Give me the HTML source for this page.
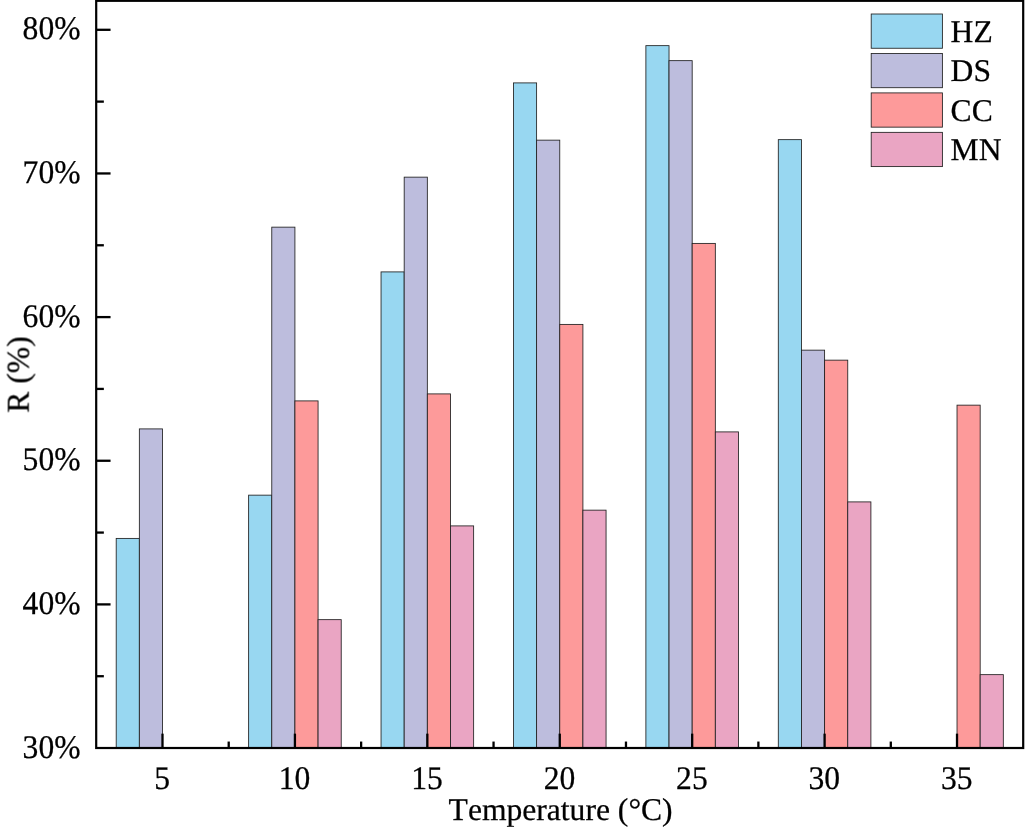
<!DOCTYPE html>
<html><head><meta charset="utf-8"><title>chart</title>
<style>
html,body{margin:0;padding:0;background:#fff;}
body{width:1026px;height:829px;overflow:hidden;}
svg{display:block;filter:blur(0.35px);}
text{font-family:"Liberation Serif",serif;font-size:31.6px;fill:#000;stroke:#000;stroke-width:0.25px;font-kerning:none;font-variant-ligatures:none;text-rendering:geometricPrecision;}
#txt{opacity:0.999;}
</style></head><body>
<svg width="1026" height="829" viewBox="0 0 1026 829">
<rect x="0" y="0" width="1026" height="829" fill="#fff"/>
<g stroke="#202020" stroke-width="0.85">
<rect x="116.20" y="538.40" width="23.15" height="209.65" fill="#98d7f1"/>
<rect x="139.35" y="428.90" width="23.15" height="319.15" fill="#bdbddd"/>
<rect x="248.62" y="495.15" width="23.15" height="252.90" fill="#98d7f1"/>
<rect x="271.77" y="227.15" width="23.15" height="520.90" fill="#bdbddd"/>
<rect x="294.92" y="400.90" width="23.15" height="347.15" fill="#fd9a9a"/>
<rect x="318.07" y="619.65" width="23.15" height="128.40" fill="#eaa5c3"/>
<rect x="381.04" y="271.90" width="23.15" height="476.15" fill="#98d7f1"/>
<rect x="404.19" y="177.15" width="23.15" height="570.90" fill="#bdbddd"/>
<rect x="427.34" y="393.90" width="23.15" height="354.15" fill="#fd9a9a"/>
<rect x="450.49" y="525.90" width="23.15" height="222.15" fill="#eaa5c3"/>
<rect x="513.46" y="82.90" width="23.15" height="665.15" fill="#98d7f1"/>
<rect x="536.61" y="140.15" width="23.15" height="607.90" fill="#bdbddd"/>
<rect x="559.76" y="324.40" width="23.15" height="423.65" fill="#fd9a9a"/>
<rect x="582.91" y="510.15" width="23.15" height="237.90" fill="#eaa5c3"/>
<rect x="645.88" y="45.65" width="23.15" height="702.40" fill="#98d7f1"/>
<rect x="669.03" y="60.65" width="23.15" height="687.40" fill="#bdbddd"/>
<rect x="692.18" y="243.40" width="23.15" height="504.65" fill="#fd9a9a"/>
<rect x="715.33" y="431.90" width="23.15" height="316.15" fill="#eaa5c3"/>
<rect x="778.30" y="139.65" width="23.15" height="608.40" fill="#98d7f1"/>
<rect x="801.45" y="350.15" width="23.15" height="397.90" fill="#bdbddd"/>
<rect x="824.60" y="360.15" width="23.15" height="387.90" fill="#fd9a9a"/>
<rect x="847.75" y="501.90" width="23.15" height="246.15" fill="#eaa5c3"/>
<rect x="957.02" y="405.15" width="23.15" height="342.90" fill="#fd9a9a"/>
<rect x="980.17" y="674.65" width="23.15" height="73.40" fill="#eaa5c3"/>
</g>
<g stroke="#000" stroke-width="2.3" fill="none">
<line x1="96.25" y1="676.22" x2="103.85" y2="676.22"/>
<line x1="96.25" y1="604.40" x2="110.55" y2="604.40"/>
<line x1="96.25" y1="532.57" x2="103.85" y2="532.57"/>
<line x1="96.25" y1="460.75" x2="110.55" y2="460.75"/>
<line x1="96.25" y1="388.92" x2="103.85" y2="388.92"/>
<line x1="96.25" y1="317.10" x2="110.55" y2="317.10"/>
<line x1="96.25" y1="245.27" x2="103.85" y2="245.27"/>
<line x1="96.25" y1="173.45" x2="110.55" y2="173.45"/>
<line x1="96.25" y1="101.62" x2="103.85" y2="101.62"/>
<line x1="96.25" y1="29.80" x2="110.55" y2="29.80"/>
<line x1="162.50" y1="748.05" x2="162.50" y2="733.65"/>
<line x1="228.71" y1="748.05" x2="228.71" y2="741.55"/>
<line x1="294.92" y1="748.05" x2="294.92" y2="733.65"/>
<line x1="361.13" y1="748.05" x2="361.13" y2="741.55"/>
<line x1="427.34" y1="748.05" x2="427.34" y2="733.65"/>
<line x1="493.55" y1="748.05" x2="493.55" y2="741.55"/>
<line x1="559.76" y1="748.05" x2="559.76" y2="733.65"/>
<line x1="625.97" y1="748.05" x2="625.97" y2="741.55"/>
<line x1="692.18" y1="748.05" x2="692.18" y2="733.65"/>
<line x1="758.39" y1="748.05" x2="758.39" y2="741.55"/>
<line x1="824.60" y1="748.05" x2="824.60" y2="733.65"/>
<line x1="890.81" y1="748.05" x2="890.81" y2="741.55"/>
<line x1="957.02" y1="748.05" x2="957.02" y2="733.65"/>
</g>
<rect x="96.2" y="0.8" width="927.0" height="747.2" fill="none" stroke="#000" stroke-width="2.2"/>
<g id="txt">
<text transform="translate(80.5,757.65) scale(1,1.045)" text-anchor="end">30%</text>
<text transform="translate(80.5,614.00) scale(1,1.045)" text-anchor="end">40%</text>
<text transform="translate(80.5,470.35) scale(1,1.045)" text-anchor="end">50%</text>
<text transform="translate(80.5,326.70) scale(1,1.045)" text-anchor="end">60%</text>
<text transform="translate(80.5,183.05) scale(1,1.045)" text-anchor="end">70%</text>
<text transform="translate(80.5,39.40) scale(1,1.045)" text-anchor="end">80%</text>
<text transform="translate(162.20,788.7) scale(1,1.045)" text-anchor="middle">5</text>
<text transform="translate(294.62,788.7) scale(1,1.045)" text-anchor="middle">10</text>
<text transform="translate(427.04,788.7) scale(1,1.045)" text-anchor="middle">15</text>
<text transform="translate(559.46,788.7) scale(1,1.045)" text-anchor="middle">20</text>
<text transform="translate(691.88,788.7) scale(1,1.045)" text-anchor="middle">25</text>
<text transform="translate(824.30,788.7) scale(1,1.045)" text-anchor="middle">30</text>
<text transform="translate(956.72,788.7) scale(1,1.045)" text-anchor="middle">35</text>
<text x="560.6" y="820" text-anchor="middle">Temperature (°C)</text>
<text transform="translate(28.6,374.5) rotate(-90)" text-anchor="middle">R (%)</text>
<rect x="871.2" y="14.00" width="71.2" height="34.25" fill="#98d7f1" stroke="#202020" stroke-width="0.85"/>
<text x="950.6" y="41.80">HZ</text>
<rect x="871.2" y="53.45" width="71.2" height="34.25" fill="#bdbddd" stroke="#202020" stroke-width="0.85"/>
<text x="950.6" y="81.25">DS</text>
<rect x="871.2" y="92.90" width="71.2" height="34.25" fill="#fd9a9a" stroke="#202020" stroke-width="0.85"/>
<text x="950.6" y="120.70">CC</text>
<rect x="871.2" y="132.35" width="71.2" height="34.25" fill="#eaa5c3" stroke="#202020" stroke-width="0.85"/>
<text x="950.6" y="160.15">MN</text>
</g>
</svg>
</body></html>
